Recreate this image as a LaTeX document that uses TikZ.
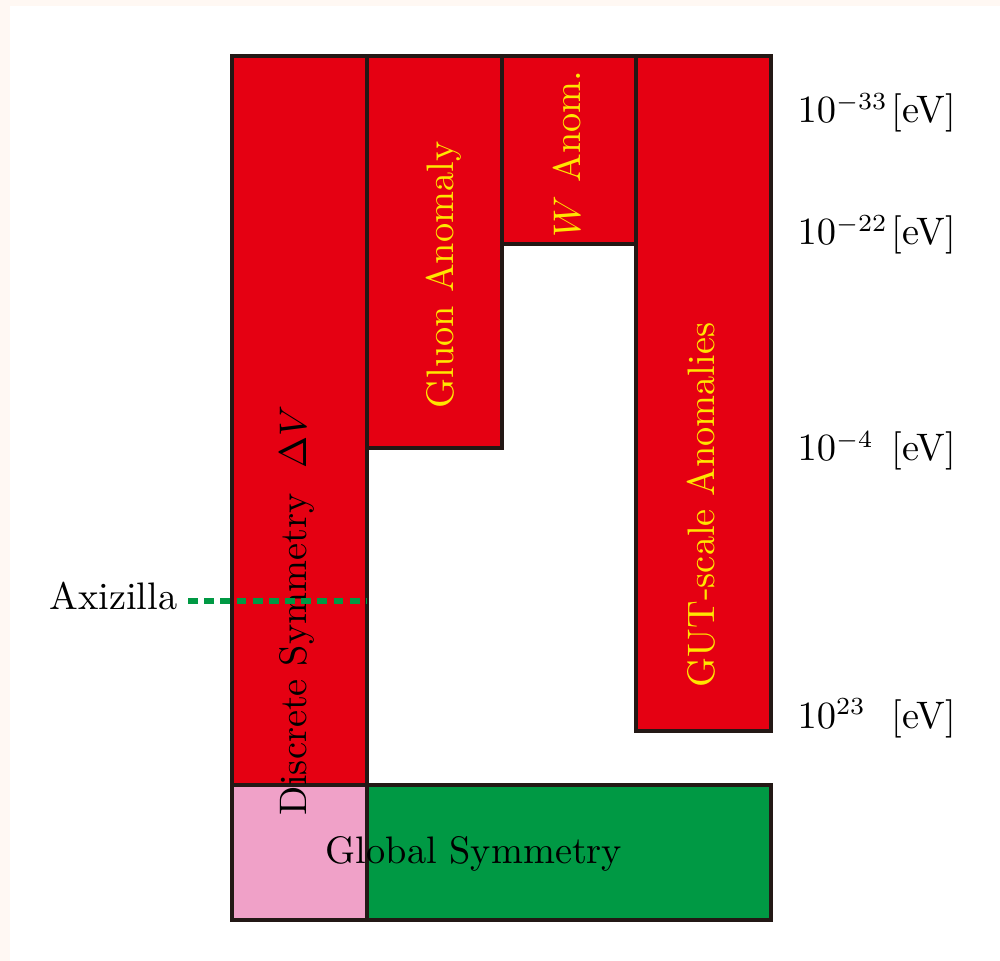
\documentclass[tikz,border=0pt]{standalone}
\usepackage{tikz}

\DeclareMathSizes{10.9}{10.9}{6.9}{5}

\definecolor{bandred}{HTML}{E50012}
\definecolor{bandgreen}{HTML}{009944}
\definecolor{bandpink}{HTML}{F0A1C8}
\definecolor{bandline}{HTML}{231815}
\definecolor{bandyellow}{HTML}{FFE600}
\definecolor{paper}{HTML}{FFF8F3}

\tikzstyle{band} = [draw=bandline, line width=1.15pt]
\tikzstyle{redband} = [band, fill=bandred]
\tikzstyle{tag} = [font=\fontsize{10.9}{13}\selectfont, inner sep=0pt]
\tikzstyle{inlabel} = [tag, rotate=90, anchor=base, text=bandyellow]
\tikzstyle{evlabel} = [tag, anchor=base west]
\tikzstyle{axiline} = [draw=bandgreen, line width=1.5pt, dash pattern=on 2.8pt off 1.8pt]

\newcommand{\evat}[1]{\makebox[26.8pt][l]{$10^{#1}$}[eV]}

\begin{document}
\begin{tikzpicture}[x=0.01cm, y=-0.01cm]
\fill[paper] (0,0) rectangle (1000,961);
\fill[white] (10,6) rectangle (1000,961);

\draw[redband] (232,56) rectangle (367,785);
\draw[redband] (367,56) rectangle (502,448);
\draw[redband] (502,56) rectangle (636,244);
\draw[redband] (636,56) rectangle (771,731);
\draw[band, fill=bandpink] (232,785) rectangle (367,920);
\draw[band, fill=bandgreen] (367,785) rectangle (771,920);

\node[inlabel] (gluon) at (453,275) {Gluon Anomaly};
\node[inlabel] (wanom) at (580,154) {$W$ Anom.};
\node[inlabel] (gut) at (714,505) {GUT-scale Anomalies};
\node[tag, rotate=90, anchor=base] (discrete) at (306,610) {Discrete Symmetry~~$\Delta V$};
\node[tag, anchor=base] (global) at (474,863) {Global Symmetry};

\node[evlabel] (ev33) at (797,123) {\evat{-33}};
\node[evlabel] (ev22) at (797,245) {\evat{-22}};
\node[evlabel] (ev4) at (797,461) {\evat{-4}};
\node[evlabel] (ev23) at (797,728) {\evat{23}};

\node[tag, anchor=base east] (axizilla) at (178,609) {Axizilla};
\coordinate (axiend) at (367,601);
\draw[axiline] (axizilla.base east) ++(10,-8) -- (axiend);
\end{tikzpicture}
\end{document}
